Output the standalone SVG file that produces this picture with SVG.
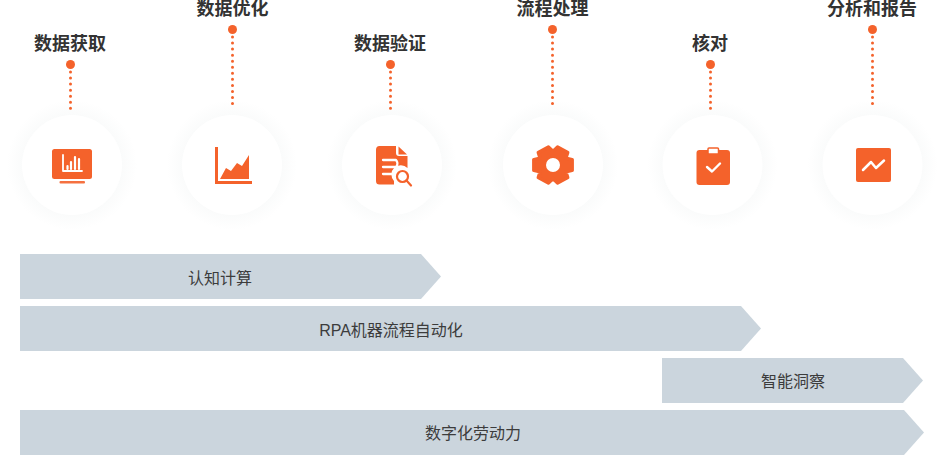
<svg xmlns="http://www.w3.org/2000/svg" width="945" height="455" viewBox="0 0 945 455">
<style>
.t{font-family:"Liberation Sans","Noto Sans CJK SC",sans-serif;font-size:18px;font-weight:700;fill:#333;text-anchor:middle}
.b{font-family:"Liberation Sans","Noto Sans CJK SC",sans-serif;font-size:16px;fill:#3c3c3c;text-anchor:middle}
.bar{fill:#cbd5dd}
.dot{fill:#f4622b}
.ln{stroke:#f4622b;stroke-width:3;stroke-linecap:round;stroke-dasharray:0 6.05;fill:none}
.ic{fill:#f4622b}
.w{fill:#fff}
.ws{fill:none;stroke:#fff;stroke-linecap:round;stroke-linejoin:round}
.halo{fill:url(#h)}
</style>
<defs>
<radialGradient id="h" gradientUnits="objectBoundingBox" cx=".5" cy=".5" r=".5">
<stop offset="0" stop-color="#fafbfb"/><stop offset=".76" stop-color="#fafbfb"/><stop offset="1" stop-color="#fff"/>
</radialGradient>
</defs>
<g id="node-1">
<text class="t" x="70" y="50">数据获取</text><circle class="dot" cx="70.500" cy="64.500" r="4.500"/>
<circle class="halo" cx="72" cy="165" r="65"/><circle class="w" cx="72" cy="165" r="50"/>
<rect class="ic" x="52" y="149" width="40" height="30" rx="2.500"/>
<path class="ws" stroke-width="1.800" d="M63 155V171H82"/>
<path class="ws" stroke-width="2.200" d="M67.500 169V166M71 169V162M75 169V157M79 169V159"/>
<rect class="ic" x="59.500" y="181" width="25.500" height="2.500" rx="1" fill-opacity=".9"/>
</g>
<g id="node-2">
<text class="t" x="232.500" y="15">数据优化</text><circle class="dot" cx="232.500" cy="29.500" r="4.500"/>
<circle class="halo" cx="232" cy="165" r="65"/><circle class="w" cx="232" cy="165" r="50"/>
<path class="ic" d="M215 147H218V181H252V184H215Z"/>
<path class="ic" d="M220 179L226 168L231 171L237 163L242 166L249 155V179Z"/>
</g>
<g id="node-3">
<text class="t" x="390" y="50">数据验证</text><circle class="dot" cx="390.500" cy="64.500" r="4.500"/>
<circle class="halo" cx="392" cy="165" r="65"/><circle class="w" cx="392" cy="165" r="50"/>
<path class="ic" d="M379.500 146H396V153Q396 156 399 156H407.500V168A8 8 0 0 0 394 181V184.500H379.500Q376 184.500 376 181V150Q376 146 379.500 146Z"/>
<path class="ic" d="M398.500 146.500L407 154.500H398.500Z"/>
<path class="ws" stroke-width="2.300" d="M383 160H396Q399 163.500 396 167H383M383 174H392"/>
<circle cx="402.500" cy="176.500" r="5.500" fill="none" stroke="#f4622b" stroke-width="2.200"/>
<path d="M406.500 180.500L411 185.500" stroke="#f4622b" stroke-width="2.200" stroke-linecap="round"/>
</g>
<g id="node-4">
<text class="t" x="552.500" y="15">流程处理</text><circle class="dot" cx="552.500" cy="29.500" r="4.500"/>
<circle class="halo" cx="553" cy="165" r="65"/><circle class="w" cx="553" cy="165" r="50"/>
<polygon class="ic" stroke="#f4622b" stroke-width="3.500" stroke-linejoin="round" transform="translate(553 165) scale(1.05 .97)" points="18.170,5.550 12.120,7 13.900,12.960 4.270,18.510 0,14 -4.270,18.510 -13.900,12.960 -12.120,7 -18.170,5.550 -18.170,-5.550 -12.120,-7 -13.900,-12.960 -4.270,-18.510 0,-14 4.270,-18.510 13.900,-12.960 12.120,-7 18.170,-5.550"/>
<circle class="w" cx="553" cy="165" r="7"/>
</g>
<g id="node-5">
<text class="t" x="710" y="50">核对</text><circle class="dot" cx="710.500" cy="64.500" r="4.500"/>
<circle class="halo" cx="712.500" cy="165" r="65"/><circle class="w" cx="712.500" cy="165" r="50"/>
<rect class="ic" x="696.500" y="150" width="33.500" height="35" rx="3"/>
<rect x="708" y="148" width="10.500" height="6" rx="1" fill="#fff" stroke="#f4622b" stroke-width="1.500"/>
<path class="ws" stroke-width="2.400" d="M707 167L712 171.500L720 163.500"/>
</g>
<g id="node-6">
<text class="t" x="872" y="15">分析和报告</text><circle class="dot" cx="872.500" cy="29.500" r="4.500"/>
<circle class="halo" cx="872.500" cy="165" r="65"/><circle class="w" cx="872.500" cy="165" r="50"/>
<rect class="ic" x="856" y="148" width="35" height="34" rx="2"/>
<path class="ws" stroke-width="2.500" d="M863 170L871 162L876 168L884 160.500"/>
</g>
<g id="connectors">
<path class="ln" d="M70.500 72V110"/>
<path class="ln" d="M232.500 37V106"/>
<path class="ln" d="M390.500 72V110"/>
<path class="ln" d="M552.500 37V106"/>
<path class="ln" d="M710.500 72V110"/>
<path class="ln" d="M872.500 37V106"/>
</g>
<g id="bar-1"><path class="bar" d="M20 254H421L441 276.500L421 299H20Z"/><text class="b" x="220" y="283.500">认知计算</text></g>
<g id="bar-2"><path class="bar" d="M20 306H741L761 328.500L741 351H20Z"/><text class="b" x="391" y="335.500">RPA机器流程自动化</text></g>
<g id="bar-3"><path class="bar" d="M662 358H903L923 380.500L903 403H662Z"/><text class="b" x="793" y="387">智能洞察</text></g>
<g id="bar-4"><path class="bar" d="M20 410H904L924 432.500L904 455H20Z"/><text class="b" x="473" y="439">数字化劳动力</text></g>
</svg>
